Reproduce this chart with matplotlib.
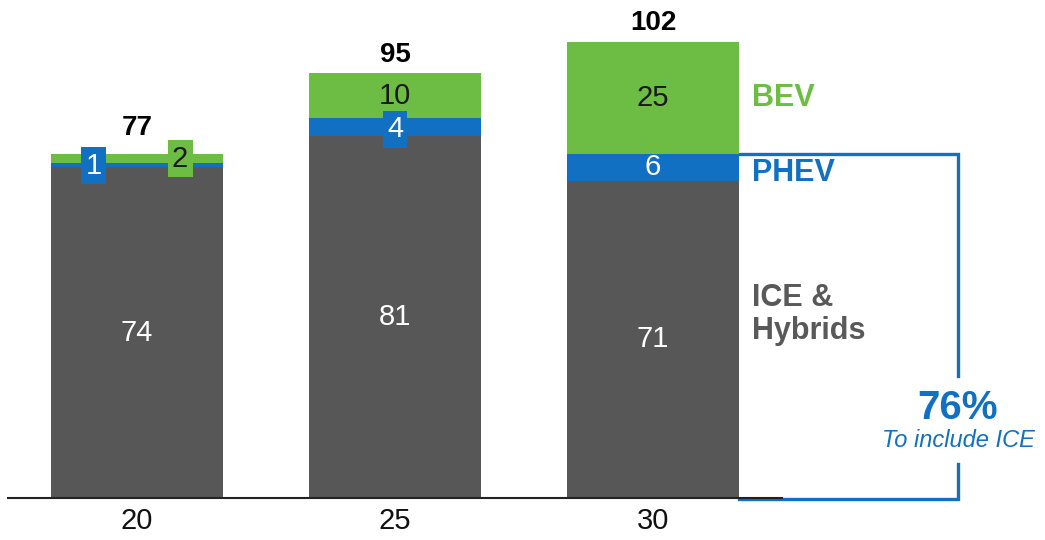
import numpy as np
import matplotlib.pyplot as plt

plt.rcParams['font.family'] = ['Liberation Sans', 'DejaVu Sans']

# market volume by powertrain (millions of units)
years = ['20', '25', '30']
ice = [74, 81, 71]
phev = [1, 4, 6]
bev = [2, 10, 25]
share_text = '76%'
share_note = 'To include ICE'

gray = '#575757'
blue = '#1170c2'
green = '#6dbd45'

x = np.arange(len(years))
ice = np.array(ice)
phev = np.array(phev)
bev = np.array(bev)
total = ice + phev + bev

fig = plt.figure(figsize=(10.45, 5.4), dpi=100)
ax = fig.add_axes([0, 0, 1, 1])
ax.set_xlim(-0.531, 3.519)
ax.set_ylim(-9.4, 111.4)
ax.set_axis_off()

w = 0.667
ax.bar(x, ice, w, color=gray, zorder=2)
ax.bar(x, phev, w, bottom=ice, color=blue, zorder=2)
ax.bar(x, bev, w, bottom=ice + phev, color=green, zorder=2)

# baseline
ax.plot([-0.5, 2.5], [0, 0], color='#222222', lw=1.5, zorder=3)

# totals on top (first bar gets extra room for the boxed labels)
for xi, t in zip(x, total):
    off = 9 if xi == 0 else 4
    ax.annotate(str(t), (xi, t), xytext=(0, off), textcoords='offset points',
                ha='center', va='bottom', fontsize=20, fontweight='bold', color='black')

# year labels
for xi, yr in zip(x, years):
    ax.text(xi, -5.2, yr, ha='center', va='center', fontsize=21, color='#111111')

# ICE values
for xi, v in zip(x, ice):
    ax.text(xi, v / 2, str(v), ha='center', va='center', fontsize=21, color='white')

# segments too thin for text get a small box
ax.text(-0.167, ice[0] + 0.3, str(phev[0]), ha='center', va='center', fontsize=21,
        color='white', zorder=4,
        bbox=dict(boxstyle='square,pad=0.15', fc=blue, ec='none'))
ax.text(0.167, ice[0] + phev[0] + 0.9, str(bev[0]), ha='center', va='center',
        fontsize=21, color='#1a1a1a', zorder=4,
        bbox=dict(boxstyle='square,pad=0.15', fc=green, ec='none'))
ax.text(1, ice[1] + phev[1] / 2 - 0.5, str(phev[1]), ha='center', va='center',
        fontsize=21, color='white', zorder=4,
        bbox=dict(boxstyle='square,pad=0.15', fc=blue, ec='none'))

# wide enough segments
for xi in [1, 2]:
    ax.text(xi, ice[xi] + phev[xi] + bev[xi] / 2, str(bev[xi]), ha='center',
            va='center', fontsize=21, color='#1a1a1a', zorder=4)
ax.text(2, ice[2] + phev[2] / 2, str(phev[2]), ha='center', va='center',
        fontsize=21, color='white', zorder=4)

# series labels to the right of last bar
lx = 2.384
ax.text(lx, ice[2] + phev[2] + bev[2] / 2, 'BEV', ha='left', va='center',
        fontsize=22, fontweight='bold', color=green)
ax.text(lx, ice[2] + phev[2] / 2 - 1.4, 'PHEV', ha='left', va='center',
        fontsize=22, fontweight='bold', color=blue)
ax.text(lx, 41, 'ICE &\nHybrids', ha='left', va='center', fontsize=22,
        fontweight='bold', color='#595959', linespacing=1.15)

# bracket around ICE + PHEV share
bx = 3.182
top = ice[2] + phev[2]
edge = 2 + w / 2
ax.plot([edge, bx, bx], [top, top, 27.3], color=blue, lw=2.4,
        solid_joinstyle='miter', zorder=1)
ax.plot([bx, bx, edge], [7.6, -0.3, -0.3], color=blue, lw=2.4,
        solid_joinstyle='miter', zorder=1)
ax.text(bx, 20.1, share_text, ha='center', va='center', fontsize=29,
        fontweight='bold', color=blue)
ax.text(bx, 12.8, share_note, ha='center', va='center', fontsize=17,
        fontstyle='italic', color=blue)

fig.savefig('out.png', dpi=100)
